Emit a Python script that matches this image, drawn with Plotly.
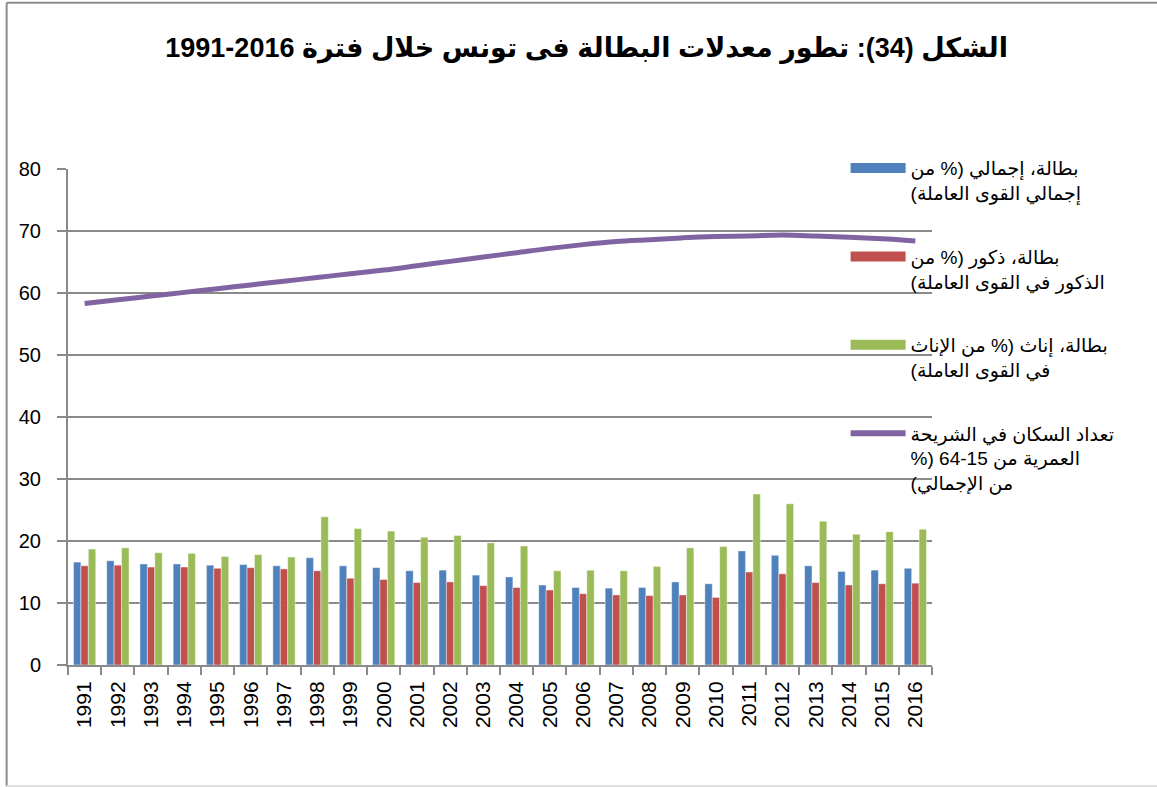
import plotly.graph_objects as go

# Years on the category axis
years = [str(y) for y in range(1991, 2017)]

# Unemployment rates (%)
unemp_total = [16.6, 16.8, 16.3, 16.3, 16.1, 16.2, 16.0, 17.3, 16.0, 15.7,
               15.2, 15.3, 14.5, 14.2, 12.9, 12.5, 12.4, 12.5, 13.4, 13.1,
               18.4, 17.7, 16.0, 15.1, 15.3, 15.6]
unemp_male = [16.0, 16.1, 15.8, 15.8, 15.6, 15.7, 15.5, 15.2, 14.0, 13.8,
              13.3, 13.4, 12.8, 12.5, 12.1, 11.5, 11.3, 11.2, 11.3, 10.9,
              15.0, 14.7, 13.3, 12.9, 13.1, 13.2]
unemp_female = [18.7, 18.9, 18.1, 18.0, 17.5, 17.8, 17.4, 23.9, 22.0, 21.6,
                20.6, 20.9, 19.7, 19.2, 15.2, 15.3, 15.2, 15.9, 18.9, 19.1,
                27.6, 26.0, 23.2, 21.1, 21.5, 21.9]

# Population aged 15-64 (% of total)
pop_15_64 = [58.3, 58.9, 59.5, 60.1, 60.7, 61.3, 61.9, 62.5, 63.1, 63.7,
             64.4, 65.1, 65.8, 66.5, 67.2, 67.8, 68.3, 68.6, 68.9, 69.1,
             69.2, 69.35, 69.2, 69.0, 68.75, 68.4]

# Series names shown in the legend (one list item per text line)
name_total = ["بطالة، إجمالي (% من", "إجمالي القوى العاملة)"]
name_male = ["بطالة، ذكور (% من", "الذكور في القوى العاملة)"]
name_female = ["بطالة، إناث (% من الإناث", "في القوى العاملة)"]
name_pop = ["تعداد السكان في الشريحة", "العمرية من 15-64 (%", "من الإجمالي)"]

title_text = "الشكل (34): تطور معدلات البطالة فى تونس خلال فترة 2016-1991"

C_BLUE = "#4F81BD"
C_RED = "#C0504D"
C_GREEN = "#9BBB59"
C_PURPLE = "#8064A2"
GRID = "#8a8a8a"
FONT = "Liberation Sans, Arial, DejaVu Sans, sans-serif"

RLM = "\u200f"


def rtl(lines):
    """Join legend lines, marking each one as right-to-left text."""
    return "<br>".join(RLM + ln + RLM for ln in lines)


fig = go.Figure()

bar_line = dict(color="rgba(255,255,255,0.55)", width=0.8)
for vals, col in [(unemp_total, C_BLUE), (unemp_male, C_RED), (unemp_female, C_GREEN)]:
    fig.add_trace(go.Bar(x=years, y=vals, marker=dict(color=col, line=bar_line),
                         showlegend=False))

fig.add_trace(go.Scatter(x=years, y=pop_15_64, mode="lines",
                         line=dict(color=C_PURPLE, width=5, shape="spline", smoothing=1),
                         showlegend=False))

# Legend entries: wide colour keys for the three bar series and the line
for i, (nm, col, w) in enumerate([(name_total, C_BLUE, 14), (name_male, C_RED, 14),
                                  (name_female, C_GREEN, 14), (name_pop, C_PURPLE, 6)]):
    fig.add_trace(go.Scatter(x=[None], y=[None], mode="lines", name=rtl(nm),
                             legendgroup=f"g{i}",
                             line=dict(color=col, width=w)))

fig.update_layout(
    width=1157, height=787,
    margin=dict(l=68, r=225, t=169, b=122),
    paper_bgcolor="white", plot_bgcolor="white",
    font=dict(family=FONT, color="black"),
    barmode="group", bargap=0.33, bargroupgap=0,
    title=dict(text=title_text, x=0.507, xanchor="center", y=0.94, yanchor="middle",
               font=dict(size=27, family=FONT, weight="bold", color="black")),
    legend=dict(x=0.9, xanchor="left", y=1.04, yanchor="top",
                bgcolor="rgba(0,0,0,0)", font=dict(size=19, family=FONT),
                itemwidth=55, valign="top", tracegroupgap=36,
                traceorder="grouped"),
    xaxis=dict(type="category", showgrid=False, showline=True, linecolor=GRID,
               linewidth=2, ticks="outside", tickson="boundaries", ticklen=8,
               tickcolor=GRID, tickwidth=2, tickangle=-90,
               tickfont=dict(size=21, family=FONT), ticklabelstandoff=6),
    yaxis=dict(range=[0, 80], dtick=10, showgrid=True, gridcolor=GRID, gridwidth=2,
               showline=True, linecolor=GRID, linewidth=2, ticks="outside",
               ticklen=9, tickcolor=GRID, tickwidth=2,
               tickfont=dict(size=20, family=FONT), ticklabelstandoff=12,
               zeroline=False),
    shapes=[
        dict(type="line", xref="paper", yref="paper", x0=-0.071, x1=1.3, y0=1.335, y1=1.335,
             line=dict(color="#8c8c8c", width=2)),
        dict(type="line", xref="paper", yref="paper", x0=-0.071, x1=-0.071, y0=1.335, y1=-0.245,
             line=dict(color="#8c8c8c", width=2)),
        dict(type="line", xref="paper", yref="paper", x0=-0.071, x1=1.3, y0=-0.244, y1=-0.244,
             line=dict(color="#e0e0e0", width=2)),
    ],
)

fig.write_html("out.html")
